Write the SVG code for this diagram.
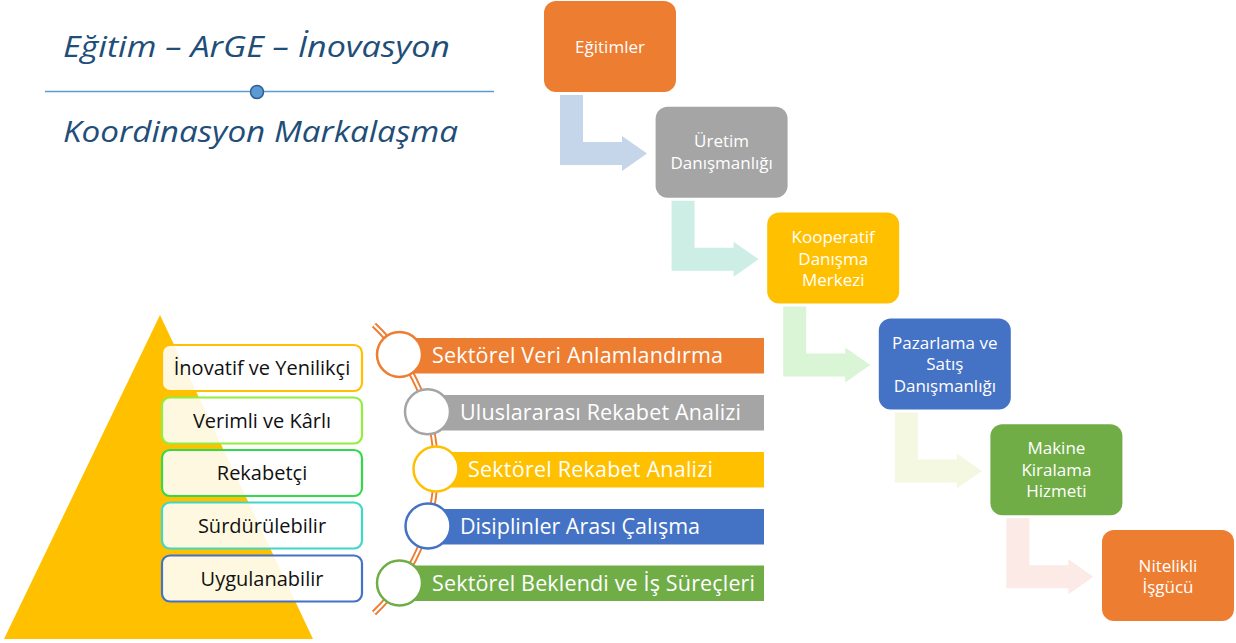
<svg xmlns="http://www.w3.org/2000/svg" width="1236" height="643" viewBox="0 0 1236 643">
<style>
.title{font-family:"Open Sans","Noto Sans",sans-serif;font-style:italic;font-size:30px;fill:#1F4E79}
.ft{font-family:"Open Sans","Noto Sans",sans-serif;font-size:17px;fill:#fff;text-anchor:middle}
.pt{font-family:"Open Sans","Noto Sans",sans-serif;font-size:20px;fill:#111;text-anchor:middle}
.bt{font-family:"Open Sans","Noto Sans",sans-serif;font-size:21.5px;fill:#fff}
.pbox{fill:#fff;fill-opacity:0.88;stroke-width:2.2}
.circ{fill:#fff;stroke-width:2.5}
</style>
<rect width="1236" height="643" fill="#fff"/>
<g id="title">
<text class="title" x="63" y="57" textLength="387" lengthAdjust="spacingAndGlyphs">Eğitim – ArGE – İnovasyon</text>
<line x1="45" y1="91.5" x2="494" y2="91.5" stroke="#5B9BD5" stroke-width="1.3"/>
<circle cx="257" cy="92" r="6.5" fill="#5B9BD5" stroke="#2F5F92" stroke-width="1.5"/>
<text class="title" x="63" y="142" textLength="395" lengthAdjust="spacingAndGlyphs">Koordinasyon Markalaşma</text>
</g>
<g id="connectors">
<path d="M560,95 H583 V142 H622 V136 L647,153.5 L622,171 V165 H560 Z" fill="#C5D5EA"/>
<path d="M560,95 H583 V142 H622 V136 L647,153.5 L622,171 V165 H560 Z" fill="#CCEEE5" transform="translate(111.6,105.8)"/>
<path d="M560,95 H583 V142 H622 V136 L647,153.5 L622,171 V165 H560 Z" fill="#D9F5D6" transform="translate(223.2,211.6)"/>
<path d="M560,95 H583 V142 H622 V136 L647,153.5 L622,171 V165 H560 Z" fill="#F4F8E1" transform="translate(334.8,317.4)"/>
<path d="M560,95 H583 V142 H622 V136 L647,153.5 L622,171 V165 H560 Z" fill="#FBEAE5" transform="translate(446.4,423.2)"/>
</g>
<g id="node-egitimler">
<rect x="544" y="1" width="132" height="91" rx="12" fill="#ED7D31"/>
<text class="ft" x="610" y="52.5">Eğitimler</text>
</g>
<g id="node-uretim">
<rect x="655.6" y="106.8" width="132" height="91" rx="12" fill="#A5A5A5"/>
<text class="ft" x="721.6" y="147">Üretim</text>
<text class="ft" x="721.6" y="168.5">Danışmanlığı</text>
</g>
<g id="node-kooperatif">
<rect x="767.2" y="212.6" width="132" height="91" rx="12" fill="#FFC000"/>
<text class="ft" x="833.2" y="243">Kooperatif</text>
<text class="ft" x="833.2" y="264.5">Danışma</text>
<text class="ft" x="833.2" y="286">Merkezi</text>
</g>
<g id="node-pazarlama">
<rect x="878.8" y="318.4" width="132" height="91" rx="12" fill="#4472C4"/>
<text class="ft" x="944.8" y="348.5">Pazarlama ve</text>
<text class="ft" x="944.8" y="370">Satış</text>
<text class="ft" x="944.8" y="391.5">Danışmanlığı</text>
</g>
<g id="node-makine">
<rect x="990.4" y="424.2" width="132" height="91" rx="12" fill="#70AD47"/>
<text class="ft" x="1056.4" y="454">Makine</text>
<text class="ft" x="1056.4" y="475.5">Kiralama</text>
<text class="ft" x="1056.4" y="497">Hizmeti</text>
</g>
<g id="node-nitelikli">
<rect x="1102" y="530" width="132" height="91" rx="12" fill="#ED7D31"/>
<text class="ft" x="1168" y="571.5">Nitelikli</text>
<text class="ft" x="1168" y="593">İşgücü</text>
</g>
<g id="pyramid">
<polygon points="160,315 313,639 4,639" fill="#FFC000"/>
</g>
<g id="p-inovatif">
<rect class="pbox" x="162" y="345" width="200" height="46" rx="8" stroke="#FFC000"/>
<text class="pt" x="262" y="375">İnovatif ve Yenilikçi</text>
</g>
<g id="p-verimli">
<rect class="pbox" x="162" y="397.5" width="200" height="46" rx="8" stroke="#92EE3C"/>
<text class="pt" x="262" y="427.5">Verimli ve Kârlı</text>
</g>
<g id="p-rekabetci">
<rect class="pbox" x="162" y="450" width="200" height="46" rx="8" stroke="#33D94A"/>
<text class="pt" x="262" y="480">Rekabetçi</text>
</g>
<g id="p-surdurulebilir">
<rect class="pbox" x="162" y="502.5" width="200" height="46" rx="8" stroke="#3FD8C8"/>
<text class="pt" x="262" y="532.5">Sürdürülebilir</text>
</g>
<g id="p-uygulanabilir">
<rect class="pbox" x="162" y="555.5" width="200" height="46" rx="8" stroke="#4472C4"/>
<text class="pt" x="262" y="585.5">Uygulanabilir</text>
</g>
<g id="timeline-line">
<path d="M374,325 A198.5,198.5 0 0 1 374,613" fill="none" stroke="#ED7D31" stroke-width="6"/>
<path d="M374,325 A198.5,198.5 0 0 1 374,613" fill="none" stroke="#fff" stroke-width="2.2"/>
</g>
<g id="t-veri">
<rect x="400" y="338" width="364" height="35.5" fill="#ED7D31"/>
<circle class="circ" cx="399.5" cy="354.5" r="22.5" stroke="#ED7D31"/>
<text class="bt" x="432" y="363" textLength="291">Sektörel Veri Anlamlandırma</text>
</g>
<g id="t-uluslararasi">
<rect x="427" y="395" width="337" height="35.5" fill="#A5A5A5"/>
<circle class="circ" cx="427.5" cy="411.7" r="22.5" stroke="#A5A5A5"/>
<text class="bt" x="460" y="420" textLength="281">Uluslararası Rekabet Analizi</text>
</g>
<g id="t-sektorel-rekabet">
<rect x="436" y="452" width="328" height="35.5" fill="#FFC000"/>
<circle class="circ" cx="436" cy="469" r="22.5" stroke="#FFC000"/>
<text class="bt" x="468" y="477" textLength="245">Sektörel Rekabet Analizi</text>
</g>
<g id="t-disiplinler">
<rect x="428" y="509" width="336" height="35.5" fill="#4472C4"/>
<circle class="circ" cx="428" cy="526" r="22.5" stroke="#4472C4"/>
<text class="bt" x="460" y="534" textLength="240">Disiplinler Arası Çalışma</text>
</g>
<g id="t-beklendi">
<rect x="400" y="565.5" width="364" height="35.5" fill="#70AD47"/>
<circle class="circ" cx="399.5" cy="583" r="22.5" stroke="#70AD47"/>
<text class="bt" x="432" y="591" textLength="323">Sektörel Beklendi ve İş Süreçleri</text>
</g>
</svg>
